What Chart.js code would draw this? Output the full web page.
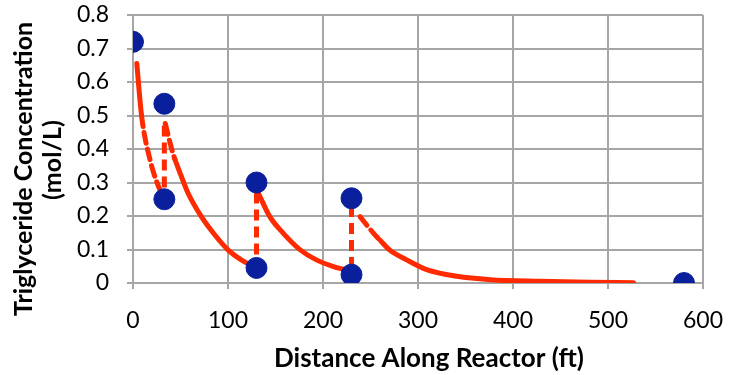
<!DOCTYPE html>
<html>
<head>
<meta charset="utf-8">
<script src="https://cdn.jsdelivr.net/npm/chart.js@4/dist/chart.umd.min.js"></script>
<style>
  html, body { margin: 0; padding: 0; background: #fff; }
  #wrap { width: 732px; height: 375px; }
</style>
</head>
<body>
<div id="wrap"><canvas id="chart"></canvas></div>
<script>
    "use strict";

    // measured points (blue markers)
    const measuredX = [0, 33, 33, 130, 130, 230, 230, 580];
    const measuredY = [0.72, 0.535, 0.25, 0.30, 0.045, 0.253, 0.025, 0];

    // model curves (red)
    const curve1X = [4, 9, 18, 27, 30];
    const curve1Y = [0.655, 0.50, 0.367, 0.287, 0.27];
    const curve2X = [34, 41, 44, 50, 58, 72, 86, 100, 114, 127];
    const curve2Y = [0.476, 0.397, 0.37, 0.325, 0.268, 0.198, 0.144, 0.099, 0.069, 0.049];
    const curve3X = [132, 144, 158, 176, 193, 211, 223];
    const curve3Y = [0.268, 0.198, 0.149, 0.099, 0.069, 0.049, 0.04];
    const curve4X = [239, 253, 260, 270, 288, 309, 341, 376, 428, 480, 527];
    const curve4Y = [0.198, 0.149, 0.128, 0.099, 0.069, 0.04, 0.02, 0.01, 0.005, 0.002, 0.001];

    // vertical jumps between stages (dashed)
    const jumpX = [33, 130, 230];
    const jumpTop = [0.47, 0.27, 0.23];
    const jumpBottom = [0.27, 0.05, 0.03];

    const xTitle = "Distance Along Reactor (ft)";
    const yTitle = ["Triglyceride Concentration", "(mol/L)"];

    const red = "#FF2A00";
    const blue = "#0A1F9C";
    const fontFamily = "Lato, 'Open Sans', sans-serif";

    function pts(xs, ys) {
        return xs.map((x, i) => ({ x: x, y: ys[i] }));
    }

    function curve(xs, ys, dashFrom, dashTo) {
        return {
            type: "line",
            data: pts(xs, ys),
            borderColor: red,
            borderWidth: 5,
            pointRadius: 0,
            cubicInterpolationMode: "monotone",
            borderCapStyle: "round",
            segment: {
                borderDash: ctx =>
                    (ctx.p0.parsed.x >= dashFrom && ctx.p1.parsed.x <= dashTo) ? [11, 6] : undefined
            },
            order: 2
        };
    }

    const datasets = [
        curve(curve1X, curve1Y, 9, 30),
        curve(curve2X, curve2Y, 34, 44),
        curve(curve3X, curve3Y, -1, -1),
        curve(curve4X, curve4Y, 239, 260)
    ];

    jumpX.forEach((x, i) => {
        datasets.push({
            type: "line",
            data: [{ x: x, y: jumpTop[i] }, { x: x, y: jumpBottom[i] }],
            borderColor: red,
            borderWidth: 5,
            borderDash: [11, 6],
            pointRadius: 0,
            order: 2
        });
    });

    datasets.push({
        type: "scatter",
        data: pts(measuredX, measuredY),
        backgroundColor: blue,
        borderColor: blue,
        pointRadius: 10.5,
        order: 1
    });

    // axis titles drawn by hand so they sit where the original puts them
    const axisTitles = {
        id: "axisTitles",
        afterDraw(chart) {
            const ctx = chart.ctx;
            ctx.save();
            ctx.fillStyle = "#000";
            ctx.textAlign = "center";
            ctx.textBaseline = "alphabetic";

            ctx.font = "bold 26px " + fontFamily;
            ctx.fillText(xTitle, 429, 367);

            ctx.font = "bold 25px " + fontFamily;
            ctx.save();
            ctx.translate(32, 169);
            ctx.rotate(-Math.PI / 2);
            ctx.fillText(yTitle[0], 0, 0);
            ctx.restore();

            ctx.save();
            ctx.translate(61, 160);
            ctx.rotate(-Math.PI / 2);
            ctx.fillText(yTitle[1], 0, 0);
            ctx.restore();

            ctx.restore();
        }
    };

    const tickFont = { family: fontFamily, size: 23 };

    new Chart(document.getElementById("chart"), {
        type: "scatter",
        data: { datasets: datasets },
        plugins: [axisTitles],
        options: {
            responsive: true,
            maintainAspectRatio: false,
            animation: false,
            layout: { padding: { left: 0, right: 29, top: 15, bottom: 0 } },
            plugins: {
                legend: { display: false },
                tooltip: { enabled: false }
            },
            scales: {
                x: {
                    type: "linear",
                    min: 0,
                    max: 600,
                    afterFit: scale => {
                        scale.height = 92;
                        scale.paddingLeft = 0;
                        scale.paddingRight = 0;
                    },
                    ticks: { stepSize: 100, color: "#000", font: tickFont, padding: 18, maxRotation: 0, autoSkip: false },
                    grid: { color: "#A6A6A6", lineWidth: 2, tickLength: 6 },
                    border: { color: "#A6A6A6", width: 2 }
                },
                y: {
                    min: 0,
                    max: 0.8,
                    afterFit: scale => {
                        scale.width = 133;
                        scale.paddingTop = 0;
                        scale.paddingBottom = 0;
                    },
                    ticks: { stepSize: 0.1, color: "#000", font: tickFont, padding: 18, autoSkip: false },
                    grid: { color: "#A6A6A6", lineWidth: 2, tickLength: 6 },
                    border: { color: "#A6A6A6", width: 2 }
                }
            }
        }
    });
</script>
</body>
</html>
